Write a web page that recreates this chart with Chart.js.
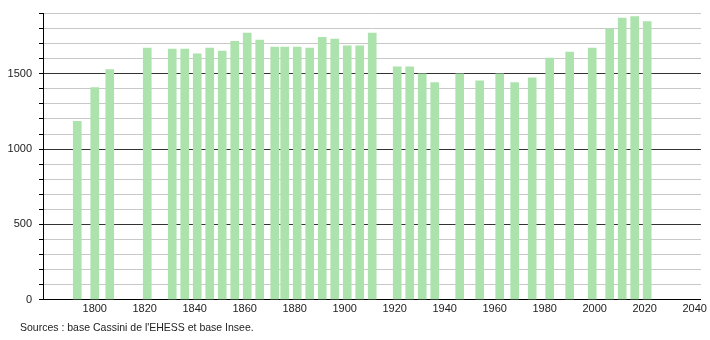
<!DOCTYPE html>
<html>
<head>
<meta charset="utf-8">
<script src="https://cdn.jsdelivr.net/npm/chart.js@4/dist/chart.umd.min.js"></script>
<style>
html,body{margin:0;padding:0;background:#fff;}
canvas{display:block;}
</style>
</head>
<body>
<canvas id="c" width="710" height="340"></canvas>
<script>
const years = [1793,1800,1806,1821,1831,1836,1841,1846,1851,1856,1861,1866,1872,1876,1881,1886,1891,1896,1901,1906,1911,1921,1926,1931,1936,1946,1954,1962,1968,1975,1982,1990,1999,2006,2011,2016,2021];
const population = [1184,1408,1528,1671,1664,1664,1632,1671,1651,1715,1770,1724,1678,1678,1678,1671,1743,1730,1686,1686,1770,1546,1546,1500,1441,1500,1454,1500,1441,1474,1605,1645,1671,1798,1871,1880,1847];
const xTickLabels = [1800,1820,1840,1860,1880,1900,1920,1940,1960,1980,2000,2020,2040];
const yTickValues = [0,100,200,300,400,500,600,700,800,900,1000,1100,1200,1300,1400,1500,1600,1700,1800,1900];
const yLabelled = [0,500,1000,1500];
const sourceText = "Sources : base Cassini de l'EHESS et base Insee.";

const FONT = "'Liberation Sans', Arial, sans-serif";

const shiftTitle = {
  id: 'shiftTitle',
  afterLayout(chart) {
    if (chart.titleBlock) { chart.titleBlock.left = 20; }
  }
};

new Chart(document.getElementById('c'), {
  type: 'bar',
  data: {
    datasets: [{
      data: years.map((y, i) => ({x: y, y: population[i]})),
      backgroundColor: 'rgb(172,226,172)',
      borderWidth: 0,
      barThickness: 8
    }]
  },
  plugins: [shiftTitle],
  options: {
    responsive: false,
    animation: false,
    devicePixelRatio: 1,
    layout: { autoPadding: false, padding: { left: 0, right: 9, top: 11, bottom: 6 } },
    plugins: {
      legend: { display: false },
      tooltip: { enabled: false },
      title: {
        display: true,
        text: sourceText,
        position: 'bottom',
        align: 'start',
        color: '#222',
        font: { family: FONT, size: 10.5, weight: 'normal', lineHeight: 1.2 },
        padding: { top: 3, bottom: 0 }
      }
    },
    scales: {
      x: {
        type: 'linear',
        offset: false,
        min: 1779.3,
        max: 2042.5,
        afterFit: s => { s.height = 18.8; },
        afterBuildTicks: s => { s.ticks = xTickLabels.map(v => ({value: v})); },
        grid: { display: false, drawTicks: false },
        border: { display: true, color: '#000', width: 1 },
        ticks: {
          padding: 3,
          color: '#222',
          font: { family: FONT, size: 11 },
          maxRotation: 0,
          autoSkip: false,
          callback: v => String(v)
        }
      },
      y: {
        min: 0,
        max: 1900,
        afterFit: s => { s.width = 43; },
        afterBuildTicks: s => { s.ticks = yTickValues.map(v => ({value: v})); },
        ticks: {
          autoSkip: false,
          padding: 7,
          color: '#222',
          font: { family: FONT, size: 11 },
          callback: v => yLabelled.includes(v) ? String(v) : ''
        },
        grid: {
          color: ctx => (ctx.tick && ctx.tick.value % 500 === 0) ? '#333' : '#c8c8c8',
          tickColor: '#000',
          tickLength: 4,
          lineWidth: 1
        },
        border: { display: true, color: '#000', width: 1 }
      }
    }
  }
});
</script>
</body>
</html>
